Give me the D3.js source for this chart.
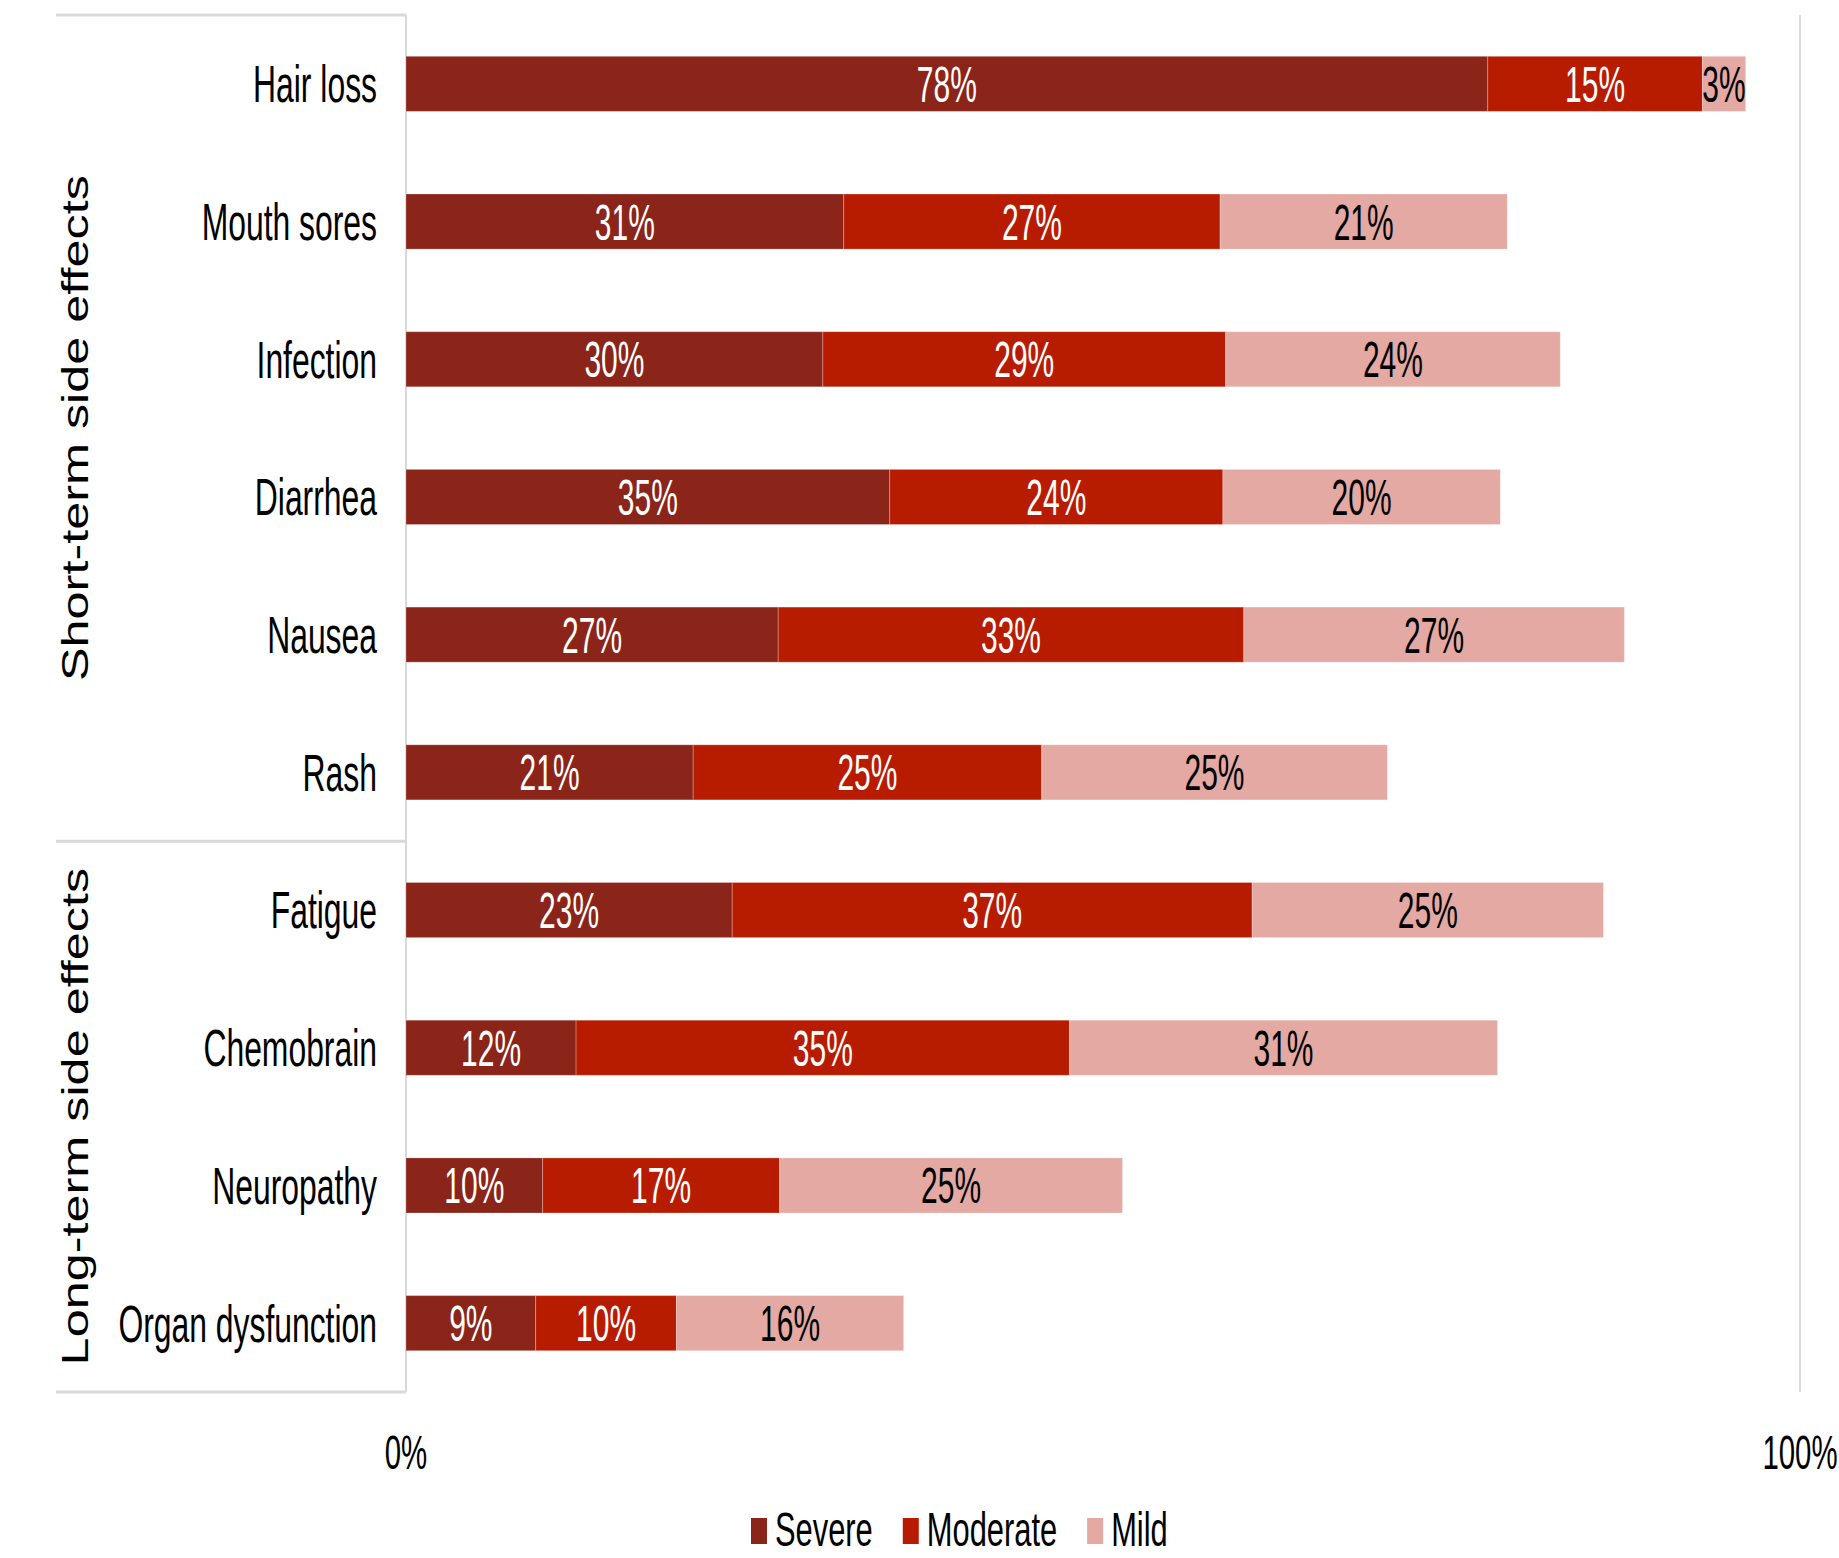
<!DOCTYPE html>
<html>
<head>
<meta charset="utf-8">
<script src="https://cdn.jsdelivr.net/npm/d3@7"></script>
<style>
  body { margin: 0; background: #fff; }
  svg text { font-family: "Liberation Sans", Arial, sans-serif; }
</style>
</head>
<body>
<div id="chart"></div>
<script>
// data
const categories = ["Hair loss", "Mouth sores", "Infection", "Diarrhea", "Nausea", "Rash",
  "Fatigue", "Chemobrain", "Neuropathy", "Organ dysfunction"];
const severe   = [0.776, 0.314, 0.299, 0.347, 0.267, 0.206, 0.234, 0.122, 0.098, 0.093];
const moderate = [0.154, 0.270, 0.289, 0.239, 0.334, 0.250, 0.373, 0.354, 0.170, 0.101];
const mild     = [0.031, 0.206, 0.240, 0.199, 0.273, 0.248, 0.252, 0.307, 0.246, 0.163];
const seriesNames = ["Severe", "Moderate", "Mild"];
const groupNames = ["Short-term side effects", "Long-term side effects"];
const groupSizes = [6, 4];
const xTicks = [0, 1];

const width = 1839, height = 1558;
const colors = { Severe: "#8b2419", Moderate: "#b81c00", Mild: "#e3a9a2" };
const labelColor = { Severe: "#fff", Moderate: "#fff", Mild: "#000" };
const squeeze = 0.6; // the picture's text is narrow and tall

const table = categories.map((c, i) => ({ cat: c, Severe: severe[i], Moderate: moderate[i], Mild: mild[i] }));
const stacked = d3.stack().keys(seriesNames)(table);

const x = d3.scaleLinear().domain([0, 1]).range([406, 1800]);
const y = d3.scaleBand().domain(categories).range([15, 1392]).paddingInner(0.6).paddingOuter(0.3);
const fmt = d3.format(".0%");

const svg = d3.select("#chart").append("svg")
  .attr("width", width).attr("height", height);

// frame lines
const grey = "#d9d9d9";
svg.append("line").attr("x1", x(1)).attr("x2", x(1)).attr("y1", 15).attr("y2", 1392)
  .attr("stroke", grey).attr("stroke-width", 2);

// group boundaries in the category area
const step = y.step();
let bounds = [15];
let acc = 0;
groupSizes.forEach(n => {
  acc += n;
  const last = categories[acc - 1];
  bounds.push(acc === categories.length ? 1392 : y(last) + y.bandwidth() + (step - y.bandwidth()) / 2);
});
svg.append("g").selectAll("line").data(bounds).join("line")
  .attr("x1", 56).attr("x2", x(0))
  .attr("y1", d => d).attr("y2", d => d)
  .attr("stroke", grey).attr("stroke-width", 3);

svg.append("line").attr("x1", x(0)).attr("x2", x(0)).attr("y1", 15).attr("y2", 1392)
  .attr("stroke", grey).attr("stroke-width", 2);

// group labels, rotated
svg.append("g").selectAll("text").data(groupNames).join("text")
  .attr("transform", (d, i) => `translate(88,${(bounds[i] + bounds[i + 1]) / 2}) rotate(-90) scale(1.4,1)`)
  .attr("text-anchor", "middle")
  .attr("font-size", 36)
  .attr("fill", "#000")
  .text(d => d);

// bars
const layer = svg.append("g").selectAll("g").data(stacked).join("g")
  .attr("fill", d => colors[d.key]);

layer.selectAll("rect").data(d => d).join("rect")
  .attr("x", d => x(d[0]))
  .attr("width", d => x(d[1]) - x(d[0]))
  .attr("y", d => y(d.data.cat))
  .attr("height", y.bandwidth())
  .attr("stroke", "#fff").attr("stroke-opacity", 0.25).attr("stroke-width", 1);

// value labels
svg.append("g").selectAll("g").data(stacked).join("g")
  .attr("fill", d => labelColor[d.key])
  .selectAll("text").data(d => d).join("text")
  .attr("transform", d => `translate(${(x(d[0]) + x(d[1])) / 2},${y(d.data.cat) + y.bandwidth() / 2}) scale(${squeeze},1)`)
  .attr("text-anchor", "middle")
  .attr("dy", "0.36em")
  .attr("font-size", 50)
  .text(d => fmt(d[1] - d[0]));

// category labels
svg.append("g").selectAll("text").data(categories).join("text")
  .attr("transform", d => `translate(377,${y(d) + y.bandwidth() / 2}) scale(0.625,1)`)
  .attr("text-anchor", "end")
  .attr("dy", "0.36em")
  .attr("font-size", 51)
  .attr("fill", "#000")
  .text(d => d);

// x tick labels
svg.append("g").selectAll("text").data(xTicks).join("text")
  .attr("transform", d => `translate(${x(d)},1451) scale(${squeeze},1)`)
  .attr("text-anchor", "middle")
  .attr("dy", "0.36em")
  .attr("font-size", 49)
  .attr("fill", "#000")
  .text(d => fmt(d));

// legend
const legend = svg.append("g");
let lx = 751;
seriesNames.forEach(name => {
  legend.append("rect").attr("x", lx).attr("y", 1518).attr("width", 16).attr("height", 26)
    .attr("fill", colors[name]);
  const t = legend.append("text")
    .attr("transform", `translate(${lx + 24},1546) scale(0.63,1)`)
    .attr("font-size", 49)
    .attr("fill", "#000")
    .text(name);
  lx += 24 + t.node().getComputedTextLength() * 0.63 + 30;
});
</script>
</body>
</html>
